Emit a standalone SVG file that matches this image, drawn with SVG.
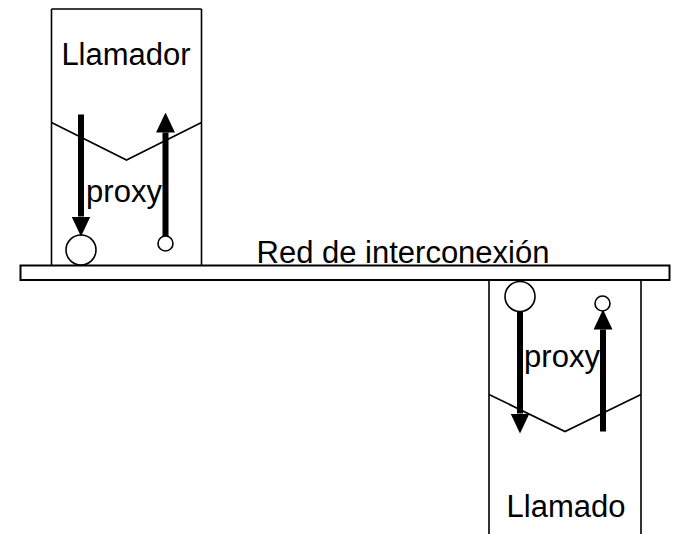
<svg xmlns="http://www.w3.org/2000/svg" width="673" height="534" viewBox="0 0 673 534">
  <style>
    .ln { fill: none; stroke: #000; stroke-width: 1.6; }
    .circ { fill: #fff; stroke: #000; stroke-width: 1.6; }
    .arr { fill: none; stroke: #000; stroke-width: 6; marker-end: url(#head); }
    .t { font-family: "Liberation Sans", Arial, sans-serif; font-size: 31px; fill: #000; }
  </style>
  <defs>
    <marker id="head" markerUnits="userSpaceOnUse" markerWidth="20" markerHeight="20" viewBox="0 -9 18 18" refX="0" refY="0" orient="auto">
      <path d="M0,-8.5 L18,0 L0,8.5 Z" fill="#000"/>
    </marker>
  </defs>
  <rect width="673" height="534" fill="#fff"/>

  <g id="llamador">
    <path class="ln" d="M51.5 9 V265.5 M201.5 9 V265.5 M51.5 9 H201.5"/>
    <path class="ln" d="M51.5 122.5 L126.5 160 L201.5 122.5"/>
    <text class="t" x="126" y="64.5" text-anchor="middle">Llamador</text>
    <text class="t" x="124" y="202" text-anchor="middle">proxy</text>
    <circle class="circ" cx="81" cy="250" r="15"/>
    <circle class="circ" cx="165.5" cy="243.5" r="7.5"/>
  </g>

  <g id="red">
    <rect x="20.5" y="265.5" width="649" height="14.5" fill="#fff" stroke="#000" stroke-width="2"/>
    <text class="t" x="403" y="262.5" text-anchor="middle">Red de interconexión</text>
  </g>

  <g id="llamado">
    <path class="ln" d="M489 280 V534 M641 280 V534"/>
    <path class="ln" d="M489 394.5 L565 431.5 L641 394.5"/>
    <text class="t" x="566" y="516.5" text-anchor="middle">Llamado</text>
    <text class="t" x="562" y="367" text-anchor="middle">proxy</text>
    <circle class="circ" cx="520" cy="296.5" r="15"/>
    <circle class="circ" cx="602.5" cy="303.5" r="7.5"/>
  </g>

  <g id="connectors">
    <path class="arr" d="M81 114.5 V216.5"/>
    <path class="arr" d="M165.5 236 V132.5"/>
    <path class="arr" d="M520 311.5 V413.5"/>
    <path class="arr" d="M603 431.5 V329.5"/>
  </g>
</svg>
